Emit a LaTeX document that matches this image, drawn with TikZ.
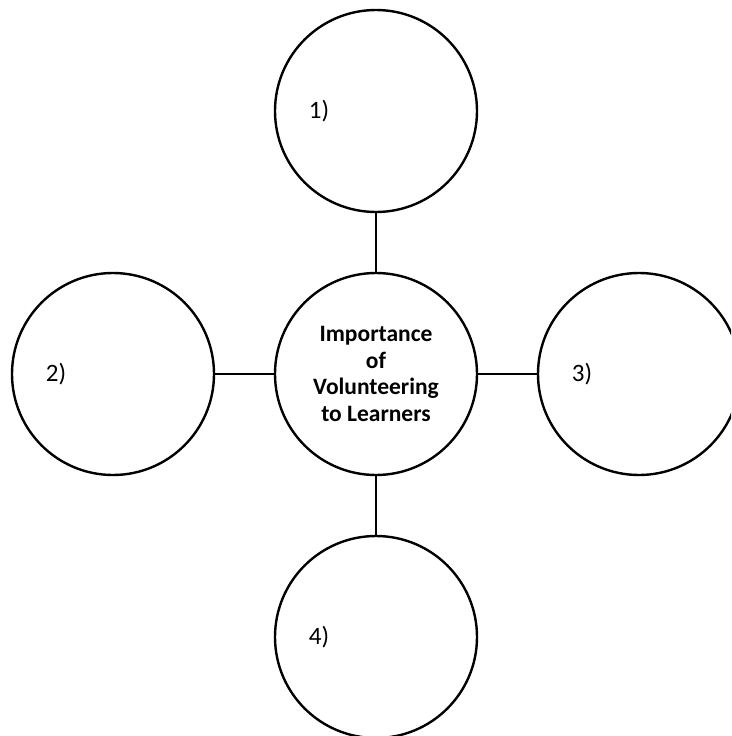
\documentclass[tikz,border=0pt]{standalone}
\usepackage{fontspec}
\setmainfont{Carlito}
\usetikzlibrary{positioning}

\begin{document}
\begin{tikzpicture}[x=1pt,y=-1pt,
      bubble/.style={draw,circle,line width=2.4pt,minimum size=202pt,inner sep=0pt},
      hub/.style={bubble,align=center,font=\bfseries\fontsize{23.5}{26.7}\selectfont},
      numlab/.style={font=\fontsize{25}{29}\selectfont}]
    \useasboundingbox (0,0) rectangle (731,736);
    \clip (0,0) rectangle (731,736);
    \node[hub] (imp) at (376,374) {Importance\\of\\Volunteering\\to Learners};
    \node[bubble] (c1) at (376,111) {};
    \node[bubble] (c2) at (113,374) {};
    \node[bubble] (c3) at (639,374) {};
    \node[bubble] (c4) at (376,637) {};
    \node[numlab] (n1) at ([xshift=-57pt]c1.center) {1)};
    \node[numlab] (n2) at ([xshift=-57pt]c2.center) {2)};
    \node[numlab] (n3) at ([xshift=-57pt]c3.center) {3)};
    \node[numlab] (n4) at ([xshift=-57pt]c4.center) {4)};
    \draw[line width=2.4pt] (imp) -- (c1);
    \draw[line width=2.4pt] (imp) -- (c2);
    \draw[line width=2.4pt] (imp) -- (c3);
    \draw[line width=2.4pt] (imp) -- (c4);
  \end{tikzpicture}
\end{document}
